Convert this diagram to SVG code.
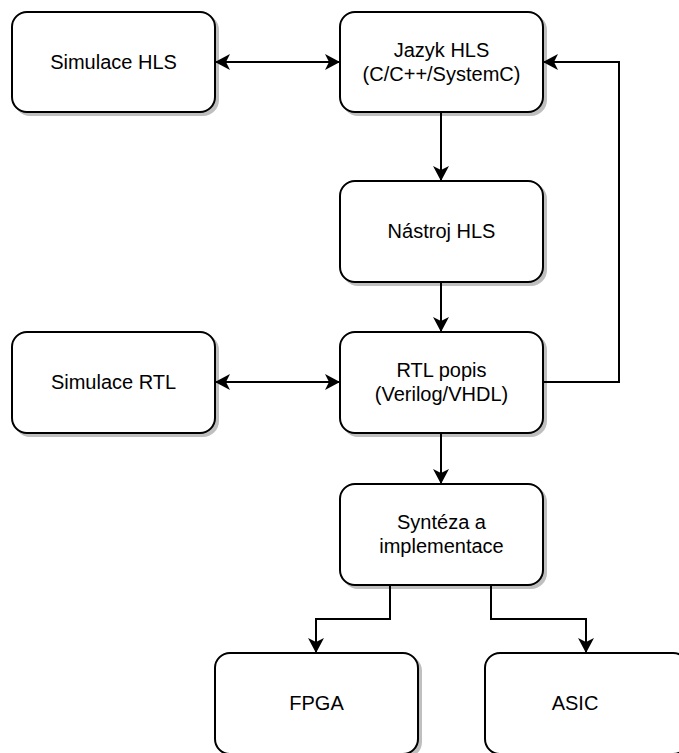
<svg xmlns="http://www.w3.org/2000/svg" width="679" height="753" viewBox="0 0 679 753">
  <style>
    .box rect { fill: #ffffff; stroke: #000000; stroke-width: 2; filter: url(#shadow); }
    .box text { font-family: "Liberation Sans", Arial, Helvetica, sans-serif; font-size: 20px; fill: #000000; text-anchor: middle; }
    .edge { fill: none; stroke: #000000; stroke-width: 2; }
  </style>
  <defs>
    <filter id="shadow" x="-10%" y="-10%" width="130%" height="130%">
      <feDropShadow dx="3" dy="3" stdDeviation="0.5" flood-color="#000000" flood-opacity="0.25"/>
    </filter>
    <marker id="arrow" viewBox="0 0 15 16" refX="14" refY="8" markerWidth="15" markerHeight="16" markerUnits="userSpaceOnUse" orient="auto-start-reverse">
      <path d="M0,0 L15,8 L0,16 L4,8 z" fill="#000000"/>
    </marker>
  </defs>
  <rect width="679" height="753" fill="#ffffff"/>

  <g id="connectors">
    <path class="edge" d="M216,62 H339" marker-start="url(#arrow)" marker-end="url(#arrow)"/>
    <path class="edge" d="M441,112 V180" marker-end="url(#arrow)"/>
    <path class="edge" d="M441,282 V331" marker-end="url(#arrow)"/>
    <path class="edge" d="M216,382 H339" marker-start="url(#arrow)" marker-end="url(#arrow)"/>
    <path class="edge" d="M543,382 H619 V62 H544" marker-end="url(#arrow)"/>
    <path class="edge" d="M441,433 V483" marker-end="url(#arrow)"/>
    <path class="edge" d="M390,585 V619 H316 V652" marker-end="url(#arrow)"/>
    <path class="edge" d="M491,585 V619 H586 V652" marker-end="url(#arrow)"/>
  </g>

  <g id="simulace-hls" class="box">
    <rect x="12" y="12" width="203" height="100" rx="15" ry="15"/>
    <text x="113.5" y="69">Simulace HLS</text>
  </g>
  <g id="jazyk-hls" class="box">
    <rect x="340" y="12" width="203" height="100" rx="15" ry="15"/>
    <text x="441.5" y="57">Jazyk HLS</text>
    <text x="441.5" y="81">(C/C++/SystemC)</text>
  </g>
  <g id="nastroj-hls" class="box">
    <rect x="340" y="181" width="203" height="101" rx="15" ry="15"/>
    <text x="441.5" y="238">Nástroj HLS</text>
  </g>
  <g id="simulace-rtl" class="box">
    <rect x="12" y="332" width="203" height="101" rx="15" ry="15"/>
    <text x="113.5" y="389">Simulace RTL</text>
  </g>
  <g id="rtl-popis" class="box">
    <rect x="340" y="332" width="203" height="101" rx="15" ry="15"/>
    <text x="441.5" y="377">RTL popis</text>
    <text x="441.5" y="401">(Verilog/VHDL)</text>
  </g>
  <g id="synteza" class="box">
    <rect x="340" y="484" width="203" height="101" rx="15" ry="15"/>
    <text x="441.5" y="529">Syntéza a</text>
    <text x="441.5" y="553">implementace</text>
  </g>
  <g id="fpga" class="box">
    <rect x="215" y="653" width="203" height="101" rx="15" ry="15"/>
    <text x="316.5" y="710">FPGA</text>
  </g>
  <g id="asic" class="box">
    <rect x="485" y="653" width="203" height="101" rx="15" ry="15"/>
    <text x="575" y="710">ASIC</text>
  </g>
</svg>
